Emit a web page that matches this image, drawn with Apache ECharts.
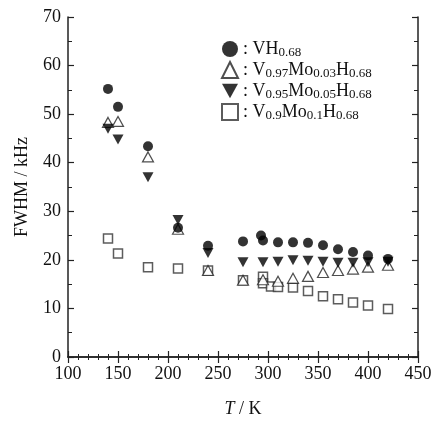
<!DOCTYPE html>
<html>
<head>
<meta charset="utf-8">
<script src="https://cdn.jsdelivr.net/npm/echarts@6/dist/echarts.min.js"></script>
<style>
  html, body { margin: 0; padding: 0; background: #fff; }
  #main { width: 437px; height: 421px; }
</style>
</head>
<body>
<div id="main"></div>
<script>
// temperatures (K) and FWHM (kHz) per sample
var vhT   = [140, 150, 180, 210, 240, 275, 293, 295, 310, 325, 340, 355, 370, 385, 400, 420];
var vhV   = [55.2, 51.5, 43.4, 26.6, 22.9, 23.8, 25.0, 24.0, 23.6, 23.6, 23.5, 23.0, 22.2, 21.6, 20.9, 20.2];

var mo3T  = [140, 150, 180, 210, 240, 275, 295, 310, 325, 340, 355, 370, 385, 400, 420];
var mo3V  = [48.3, 48.5, 41.2, 26.3, 17.8, 15.8, 15.9, 15.6, 16.2, 16.6, 17.4, 17.8, 18.1, 18.5, 18.9];

var mo5T  = [140, 150, 180, 210, 240, 275, 295, 310, 325, 340, 355, 370, 385, 400, 420];
var mo5V  = [47.0, 44.8, 37.0, 28.2, 21.4, 19.5, 19.5, 19.6, 19.9, 19.8, 19.6, 19.4, 19.4, 19.5, 19.6];

var mo10T = [140, 150, 180, 210, 240, 275, 295, 295, 303, 310, 325, 340, 355, 370, 385, 400, 420];
var mo10V = [24.4, 21.3, 18.5, 18.2, 17.8, 15.8, 16.5, 15.2, 14.5, 14.4, 14.3, 13.6, 12.5, 11.9, 11.2, 10.6, 9.9];

var names = ['VH0.68', 'V0.97Mo0.03H0.68', 'V0.95Mo0.05H0.68', 'V0.9Mo0.1H0.68'];
var labels = {
  'VH0.68': '{m|: VH}{s|0.68}',
  'V0.97Mo0.03H0.68': '{m|: V}{s|0.97}{m|Mo}{s|0.03}{m|H}{s|0.68}',
  'V0.95Mo0.05H0.68': '{m|: V}{s|0.95}{m|Mo}{s|0.05}{m|H}{s|0.68}',
  'V0.9Mo0.1H0.68': '{m|: V}{s|0.9}{m|Mo}{s|0.1}{m|H}{s|0.68}'
};

function pairs(xs, ys) {
  var out = [];
  for (var i = 0; i < xs.length; i++) out.push([xs[i], ys[i]]);
  return out;
}

var serif = '"Liberation Serif", "DejaVu Serif", serif';
var chart = echarts.init(document.getElementById('main'));

var baseX = {
  type: 'value', min: 100, max: 450, interval: 50,
  axisLine: { show: true, lineStyle: { color: '#222', width: 1.5 } },
  axisTick: { show: true, inside: true, length: 6, lineStyle: { color: '#222', width: 1.2 } },
  minorTick: { show: true, splitNumber: 5, length: 3, lineStyle: { color: '#222', width: 1 } },
  splitLine: { show: false }
};
var baseY = {
  type: 'value', min: 0, max: 70, interval: 10,
  axisLine: { show: true, lineStyle: { color: '#222', width: 1.5 } },
  axisTick: { show: true, inside: true, length: 6, lineStyle: { color: '#222', width: 1.2 } },
  minorTick: { show: true, splitNumber: 2, length: 4, lineStyle: { color: '#222', width: 1 } },
  splitLine: { show: false }
};

chart.setOption({
  backgroundColor: '#fff',
  animation: false,
  grid: { left: 68, right: 19, top: 17, bottom: 64, outerBoundsMode: 'none' },
  legend: {
    orient: 'vertical',
    left: 216,
    top: 35,
    itemWidth: 16,
    itemHeight: 16,
    itemGap: 2,
    data: [
      { name: names[0] },
      { name: names[1] },
      { name: names[2], icon: 'path://M0,0 L10,0 L5,9 Z' },
      { name: names[3] }
    ],
    formatter: function (n) { return labels[n]; },
    textStyle: {
      color: '#111',
      rich: {
        m: { fontFamily: serif, fontSize: 18, color: '#111', lineHeight: 20 },
        s: { fontFamily: serif, fontSize: 13, color: '#111', lineHeight: 11, verticalAlign: 'bottom' }
      }
    }
  },
  xAxis: [
    Object.assign({}, baseX, {
      position: 'bottom',
      name: '{i|T} / K',
      nameLocation: 'middle',
      nameGap: 43,
      nameTextStyle: {
        fontFamily: serif, fontSize: 18, color: '#111',
        rich: {
          i: { fontFamily: serif, fontSize: 18, fontStyle: 'italic', color: '#111' }
        }
      },
      axisLabel: { fontFamily: serif, fontSize: 18, color: '#111', margin: 8 }
    }),
    Object.assign({}, baseX, { position: 'top', axisLabel: { show: false } })
  ],
  yAxis: [
    Object.assign({}, baseY, {
      position: 'left',
      name: 'FWHM / kHz',
      nameLocation: 'middle',
      nameGap: 37,
      nameTextStyle: { fontFamily: serif, fontSize: 18, color: '#111' },
      axisLabel: { fontFamily: serif, fontSize: 18, color: '#111', margin: 7 }
    }),
    Object.assign({}, baseY, { position: 'right', axisLabel: { show: false } })
  ],
  series: [
    {
      name: names[3], type: 'scatter', data: pairs(mo10T, mo10V),
      symbol: 'rect', symbolSize: 9, z: 2,
      itemStyle: { color: '#fff', borderColor: '#333', borderWidth: 1.5 }
    },
    {
      name: names[1], type: 'scatter', data: pairs(mo3T, mo3V),
      symbol: 'triangle', symbolSize: [11, 10], z: 3,
      itemStyle: { color: '#fff', borderColor: '#222', borderWidth: 1.2 }
    },
    {
      name: names[2], type: 'scatter', data: pairs(mo5T, mo5V),
      symbol: 'triangle', symbolRotate: 180, symbolSize: [11, 10], z: 4,
      itemStyle: { color: '#000' }
    },
    {
      name: names[0], type: 'scatter', data: pairs(vhT, vhV),
      symbol: 'circle', symbolSize: 10, z: 5,
      itemStyle: { color: '#000' }
    }
  ]
});
</script>
</body>
</html>
